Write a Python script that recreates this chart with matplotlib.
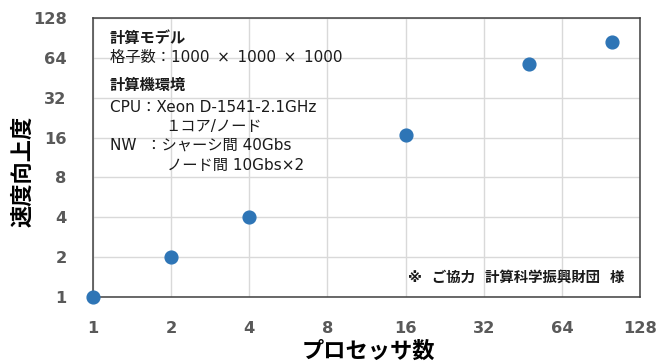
import matplotlib
matplotlib.use('Agg')
import matplotlib.pyplot as plt
from matplotlib.ticker import FixedLocator, FixedFormatter, NullLocator

plt.rcParams['font.family'] = ['DejaVu Sans', 'Noto Sans CJK JP']

# 並列数と速度向上度
procs = [1, 2, 4, 16, 48, 100]
speedup = [1, 2.0, 4.03, 16.8, 58, 84]

ticks = [1, 2, 4, 8, 16, 32, 64, 128]
tick_labels = ['1', '2', '4', '8', '16', '32', '64', '128']

# 注記（テキスト, 太さ, x位置[axes], y位置[px]）
info_lines = [
    ('計算モデル', 'bold', 0.031, 38),
    ('格子数：1000\u2002×\u20021000\u2002×\u20021000', 'normal', 0.031, 57),
    ('計算機環境', 'bold', 0.031, 85),
    ('CPU：Xeon D-1541-2.1GHz', 'normal', 0.031, 108),
    ('１コア/ノード', 'normal', 0.132, 127),
    ('NW  ：シャーシ間 40Gbs', 'normal', 0.031, 145),
    ('ノード間 10Gbs×2', 'normal', 0.135, 165),
]
credit = '※  ご協力  計算科学振興財団  様'

W, H = 660, 363
x0, x1, y0, y1 = 93, 640, 297, 18

fig = plt.figure(figsize=(W / 100, H / 100), dpi=100)
ax = fig.add_axes([x0 / W, 1 - y0 / H, (x1 - x0) / W, (y0 - y1) / H])

ax.set_xscale('log', base=2)
ax.set_yscale('log', base=2)
ax.set_xlim(1, 128)
ax.set_ylim(1, 128)

ax.xaxis.set_major_locator(FixedLocator(ticks))
ax.xaxis.set_major_formatter(FixedFormatter(tick_labels))
ax.yaxis.set_major_locator(FixedLocator(ticks))
ax.yaxis.set_major_formatter(FixedFormatter(tick_labels))
ax.xaxis.set_minor_locator(NullLocator())
ax.yaxis.set_minor_locator(NullLocator())

ax.grid(True, color='#d9d9d9', linewidth=1)
ax.set_axisbelow(True)
ax.tick_params(length=0, labelsize=11.7, labelcolor='#595959')
ax.tick_params(axis='x', pad=17)
ax.tick_params(axis='y', pad=19)
for lbl in ax.get_xticklabels() + ax.get_yticklabels():
    lbl.set_fontweight('bold')

for side in ['left', 'right', 'top', 'bottom']:
    ax.spines[side].set_color('#404040')
    ax.spines[side].set_linewidth(1.1)

ax.plot(procs, speedup, 'o', color='#2E75B6', markersize=9.2, clip_on=False, zorder=5)

# 軸ラベル
fig.text(368 / W, 1 - 351 / H, 'プロセッサ数', fontsize=16, fontweight='bold',
         ha='center', va='center')
fig.text(23 / W, 1 - 171 / H, '速度向上度', fontsize=16, fontweight='bold',
         ha='center', va='center', rotation=90)

for txt, weight, x, yp in info_lines:
    ax.text(x, (y0 - yp) / (y0 - y1), txt, transform=ax.transAxes, fontsize=11,
            fontweight=weight, va='center', ha='left', color='#1a1a1a')

ax.text(0.972, (y0 - 278) / (y0 - y1), credit, transform=ax.transAxes,
        fontsize=10.4, fontweight='bold', va='center', ha='right', color='#1a1a1a')

fig.savefig('out.png', dpi=100)
